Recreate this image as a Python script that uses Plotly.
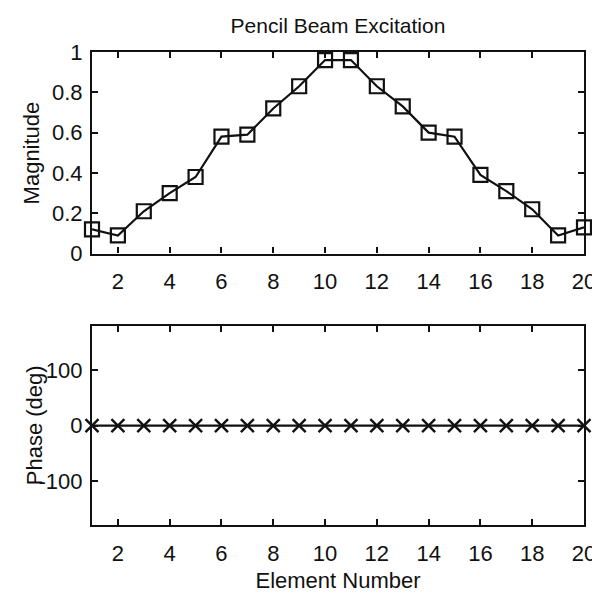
import plotly.graph_objects as go

element = list(range(1, 21))
magnitude = [0.12, 0.09, 0.21, 0.30, 0.38, 0.58, 0.59, 0.72, 0.83, 0.96,
             0.96, 0.83, 0.73, 0.60, 0.58, 0.39, 0.31, 0.22, 0.09, 0.13]
phase_deg = [0] * 20

x_ticks = [2, 4, 6, 8, 10, 12, 14, 16, 18, 20]
mag_ticks = [0, 0.2, 0.4, 0.6, 0.8, 1]
mag_ticktext = ["0", "0.2", "0.4", "0.6", "0.8", "1"]
phase_ticks = [-100, 0, 100]
phase_ticktext = ["-100", "0", "100"]

FONT = "Liberation Sans, Arial, Helvetica, sans-serif"
BLACK = "#111111"

fig = go.Figure()
fig.add_trace(go.Scatter(
    x=element, y=magnitude, mode="lines+markers", cliponaxis=False,
    line=dict(color=BLACK, width=2.2),
    marker=dict(symbol="square-open", size=14, color=BLACK, line=dict(width=2.2, color=BLACK)),
    xaxis="x", yaxis="y", showlegend=False))
fig.add_trace(go.Scatter(
    x=element, y=phase_deg, mode="lines+markers", cliponaxis=False,
    line=dict(color=BLACK, width=2.2),
    marker=dict(symbol="x-thin-open", size=13, color=BLACK, line=dict(width=2.4, color=BLACK)),
    xaxis="x2", yaxis="y2", showlegend=False))

axis_common = dict(showline=True, linecolor=BLACK, linewidth=2.2, mirror="ticks",
                   ticks="inside", ticklen=6, tickwidth=1.6, tickcolor=BLACK,
                   showgrid=False, zeroline=False,
                   tickfont=dict(family=FONT, size=22, color=BLACK))

fig.update_layout(
    width=600, height=593,
    margin=dict(l=84, r=19, t=44, b=61),
    paper_bgcolor="white", plot_bgcolor="white",
    title=dict(text="Pencil Beam Excitation", x=0.5, xref="paper", xanchor="center",
               y=1 - 18 / 593, yref="container", yanchor="middle",
               font=dict(family=FONT, size=21, color=BLACK)),
    xaxis=dict(domain=[0, 1], anchor="y", range=[1, 20], tickvals=x_ticks,
               ticklabelstandoff=7, **axis_common),
    yaxis=dict(domain=[0.5738, 1], anchor="x", range=[0, 1], tickvals=mag_ticks,
               ticktext=mag_ticktext, ticklabelstandoff=3, **axis_common),
    xaxis2=dict(domain=[0, 1], anchor="y2", range=[1, 20], tickvals=x_ticks,
                ticklabelstandoff=7,
                title=dict(text="Element Number", standoff=8,
                           font=dict(family=FONT, size=22, color=BLACK)),
                **axis_common),
    yaxis2=dict(domain=[0, 0.4201], anchor="x2", range=[-180, 180], tickvals=phase_ticks,
                ticktext=phase_ticktext, ticklabelstandoff=3, **axis_common),
    annotations=[
        dict(text="Magnitude", textangle=-90, xref="paper", yref="paper",
             x=-(84 - 23) / 497, y=0.5738 + (1 - 0.5738) / 2, xanchor="center", yanchor="middle",
             showarrow=False, font=dict(family=FONT, size=22, color=BLACK)),
        dict(text="Phase (deg)", textangle=-90, xref="paper", yref="paper",
             x=-(84 - 26) / 497, y=0.4201 / 2, xanchor="center", yanchor="middle",
             showarrow=False, font=dict(family=FONT, size=22, color=BLACK)),
    ],
)

fig.write_html("out.html")
